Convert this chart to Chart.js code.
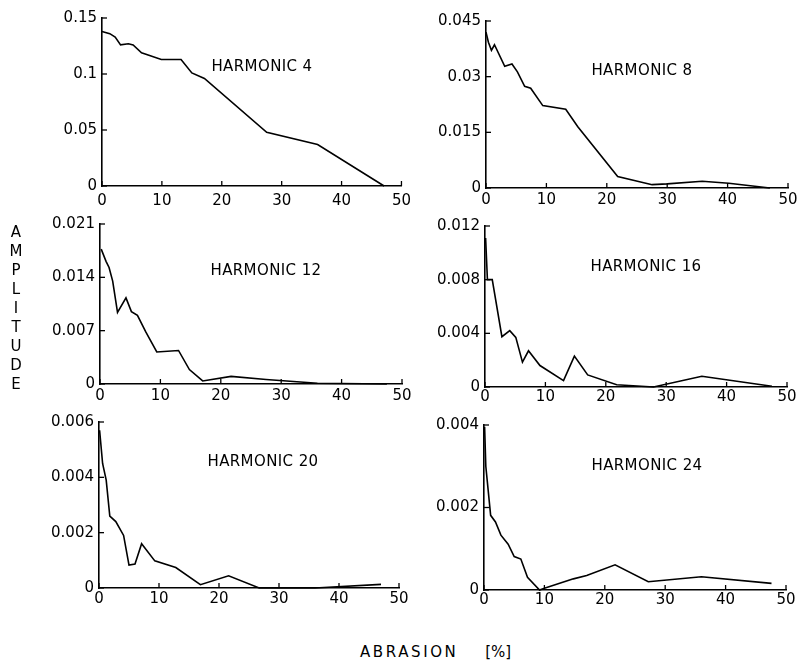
<!DOCTYPE html>
<html>
<head>
<meta charset="utf-8">
<script src="https://cdn.jsdelivr.net/npm/chart.js@4/dist/chart.umd.min.js"></script>
<style>
  html, body { margin:0; padding:0; background:#fff; }
  body { width:798px; height:669px; position:relative; overflow:hidden; font-family:"DejaVu Sans", sans-serif; color:#000; }
  canvas { position:absolute; }
  .lbl { position:absolute; font-size:15px; line-height:18px; white-space:nowrap; transform:translateX(-50%); letter-spacing:0.4px; }
  #ylab { position:absolute; left:6px; top:223px; width:20px; font-size:15px; line-height:19px; text-align:center; }
  #ylab span { display:block; }
  #xlab { position:absolute; left:360px; top:643px; font-size:15px; line-height:18px; white-space:nowrap; }
</style>
</head>
<body>
<canvas id="c1"></canvas>
<canvas id="c2"></canvas>
<canvas id="c3"></canvas>
<canvas id="c4"></canvas>
<canvas id="c5"></canvas>
<canvas id="c6"></canvas>

<div class="lbl" style="left:262px; top:57px;">HARMONIC 4</div>
<div class="lbl" style="left:642px; top:61px;">HARMONIC 8</div>
<div class="lbl" style="left:266px; top:261px;">HARMONIC 12</div>
<div class="lbl" style="left:646px; top:257px;">HARMONIC 16</div>
<div class="lbl" style="left:263px; top:452px;">HARMONIC 20</div>
<div class="lbl" style="left:647px; top:456px;">HARMONIC 24</div>
<div id="ylab"><span>A</span><span>M</span><span>P</span><span>L</span><span>I</span><span>T</span><span>U</span><span>D</span><span>E</span></div>
<div id="xlab"><span style="letter-spacing:2.6px">ABRASION</span> <span style="margin-left:22px">[%]</span></div>

<script>
// ---- Data ----
const abrasionTicks = [0, 10, 20, 30, 40, 50];
const abrasionTickLabels = ['0', '10', '20', '30', '40', '50'];

const h4Abrasion  = [0, 1.3, 2.2, 3.1, 4.4, 5.2, 6.6, 7.7, 9.9, 13.2, 15.0, 17.1, 27.5, 36.0, 47.1];
const h4Amplitude = [0.138, 0.136, 0.133, 0.126, 0.127, 0.126, 0.119, 0.117, 0.113, 0.113, 0.101, 0.096, 0.048, 0.037, 0];
const h4YTicks = [0, 0.05, 0.1, 0.15];
const h4YTickLabels = ['0', '0.05', '0.1', '0.15'];

const h8Abrasion  = [0, 0.4, 0.9, 1.4, 3.1, 4.3, 5.2, 6.4, 7.4, 9.4, 13.2, 15.2, 21.8, 27.5, 30.0, 35.8, 40.2, 47.0];
const h8Amplitude = [0.042, 0.0393, 0.0371, 0.0386, 0.0328, 0.0334, 0.0313, 0.0274, 0.0269, 0.0222, 0.0212, 0.0165, 0.0031, 0.0009, 0.0011, 0.0018, 0.0013, 0];
const h8YTicks = [0, 0.015, 0.03, 0.045];
const h8YTickLabels = ['0', '0.015', '0.03', '0.045'];

const h12Abrasion  = [0.2, 1.0, 1.5, 2.1, 2.9, 4.3, 5.2, 6.2, 7.6, 9.4, 13.0, 14.8, 17.0, 21.7, 27.5, 36.0, 47.5];
const h12Amplitude = [0.0177, 0.0161, 0.0153, 0.0135, 0.0094, 0.0113, 0.0095, 0.0090, 0.0068, 0.0042, 0.0044, 0.0019, 0.0004, 0.0010, 0.0006, 0.0001, 0];
const h12YTicks = [0, 0.007, 0.014, 0.021];
const h12YTickLabels = ['0', '0.007', '0.014', '0.021'];

const h16Abrasion  = [0.1, 0.4, 1.2, 2.8, 4.1, 5.1, 6.2, 7.2, 9.1, 13.0, 14.8, 17.0, 21.8, 27.9, 35.9, 47.5];
const h16Amplitude = [0.0111, 0.0080, 0.0080, 0.00375, 0.0042, 0.0037, 0.00185, 0.0027, 0.0016, 0.00047, 0.0023, 0.0009, 0.00017, 0, 0.0008, 0.00005];
const h16YTicks = [0, 0.004, 0.008, 0.012];
const h16YTickLabels = ['0', '0.004', '0.008', '0.012'];

const h20Abrasion  = [0.1, 0.6, 1.2, 1.8, 2.8, 4.1, 5.0, 6.0, 7.1, 9.3, 12.8, 16.9, 21.6, 26.7, 36.0, 47.0];
const h20Amplitude = [0.0057, 0.0045, 0.0039, 0.0026, 0.0024, 0.0019, 0.00083, 0.00087, 0.0016, 0.00098, 0.00074, 0.00012, 0.00044, 0, 0, 0.00013];
const h20YTicks = [0, 0.002, 0.004, 0.006];
const h20YTickLabels = ['0', '0.002', '0.004', '0.006'];

const h24Abrasion  = [0.1, 0.3, 1.1, 1.9, 2.8, 4.0, 5.0, 6.1, 7.2, 9.2, 10.0, 14.8, 17.0, 21.7, 27.2, 36.0, 47.6];
const h24Amplitude = [0.00396, 0.0030, 0.00181, 0.00165, 0.00133, 0.00111, 0.00081, 0.00075, 0.00031, 0, 0.00004, 0.00027, 0.00035, 0.00061, 0.0002, 0.00032, 0.00016];
const h24YTicks = [0, 0.002, 0.004];
const h24YTickLabels = ['0', '0.002', '0.004'];

// ---- Layout (chart-area rectangles in page pixels) ----
const panels = [
  { id:'c1', xs:h4Abrasion,  ys:h4Amplitude,  yt:h4YTicks,  yl:h4YTickLabels,  area:{l:102, r:403, t:16,  b:186}, xpad:6 },
  { id:'c2', xs:h8Abrasion,  ys:h8Amplitude,  yt:h8YTicks,  yl:h8YTickLabels,  area:{l:486, r:788, t:19,  b:188}, xpad:3 },
  { id:'c3', xs:h12Abrasion, ys:h12Amplitude, yt:h12YTicks, yl:h12YTickLabels, area:{l:100, r:402, t:222, b:384}, xpad:3 },
  { id:'c4', xs:h16Abrasion, ys:h16Amplitude, yt:h16YTicks, yl:h16YTickLabels, area:{l:485, r:787, t:224, b:387}, xpad:1 },
  { id:'c5', xs:h20Abrasion, ys:h20Amplitude, yt:h20YTicks, yl:h20YTickLabels, area:{l:99,  r:399, t:420, b:588}, xpad:2 },
  { id:'c6', xs:h24Abrasion, ys:h24Amplitude, yt:h24YTicks, yl:h24YTickLabels, area:{l:484, r:786, t:423, b:590}, xpad:1 }
];

const Y_W = 70, X_H = 28, PAD_T = 12, PAD_R = 14;

Chart.defaults.font.family = '"DejaVu Sans", sans-serif';
Chart.defaults.font.size = 15;
Chart.defaults.color = '#000';

const inwardTicks = {
  id: 'inwardTicks',
  afterDraw(chart) {
    const ctx = chart.ctx, a = chart.chartArea;
    const xs = chart.scales.x, ys = chart.scales.y;
    ctx.save();
    ctx.strokeStyle = '#000';
    ctx.lineWidth = 1.3;
    xs.ticks.forEach(t => {
      const px = xs.getPixelForValue(t.value);
      ctx.beginPath(); ctx.moveTo(px, a.bottom); ctx.lineTo(px, a.bottom - 5); ctx.stroke();
    });
    ys.ticks.forEach(t => {
      const py = ys.getPixelForValue(t.value);
      ctx.beginPath(); ctx.moveTo(a.left, py); ctx.lineTo(a.left + 5, py); ctx.stroke();
    });
    ctx.restore();
  }
};

panels.forEach(p => {
  const cv = document.getElementById(p.id);
  const w = (p.area.r - p.area.l) + Y_W + PAD_R;
  const h = (p.area.b - p.area.t) + PAD_T + X_H;
  cv.width = w; cv.height = h;
  cv.style.width = w + 'px'; cv.style.height = h + 'px';
  cv.style.left = (p.area.l - Y_W) + 'px';
  cv.style.top = (p.area.t - PAD_T) + 'px';

  new Chart(cv, {
    type: 'line',
    data: {
      datasets: [{
        data: p.xs.map((x, i) => ({ x: x, y: p.ys[i] })),
        borderColor: '#000',
        borderWidth: 1.6,
        pointRadius: 0,
        tension: 0,
        fill: false,
        clip: false
      }]
    },
    options: {
      responsive: false,
      animation: false,
      devicePixelRatio: 1,
      layout: { padding: { top: PAD_T, right: PAD_R, left: 0, bottom: 0 } },
      plugins: { legend: { display: false }, tooltip: { enabled: false } },
      scales: {
        x: {
          type: 'linear',
          min: 0, max: 50,
          afterBuildTicks: s => { s.ticks = abrasionTicks.map(v => ({ value: v })); },
          afterFit: s => { s.height = X_H; },
          ticks: {
            padding: p.xpad,
            maxRotation: 0,
            autoSkip: false,
            callback: (v, i) => abrasionTickLabels[i]
          },
          grid: { display: true, drawOnChartArea: false, drawTicks: false },
          border: { display: true, color: '#000', width: 1.6 }
        },
        y: {
          type: 'linear',
          min: 0, max: p.yt[p.yt.length - 1],
          afterBuildTicks: s => { s.ticks = p.yt.map(v => ({ value: v })); },
          afterFit: s => { s.width = Y_W; },
          ticks: {
            padding: 5,
            autoSkip: false,
            callback: (v, i) => p.yl[i]
          },
          grid: { display: true, drawOnChartArea: false, drawTicks: false },
          border: { display: true, color: '#000', width: 1.6 }
        }
      }
    },
    plugins: [inwardTicks]
  });
});
</script>
</body>
</html>
